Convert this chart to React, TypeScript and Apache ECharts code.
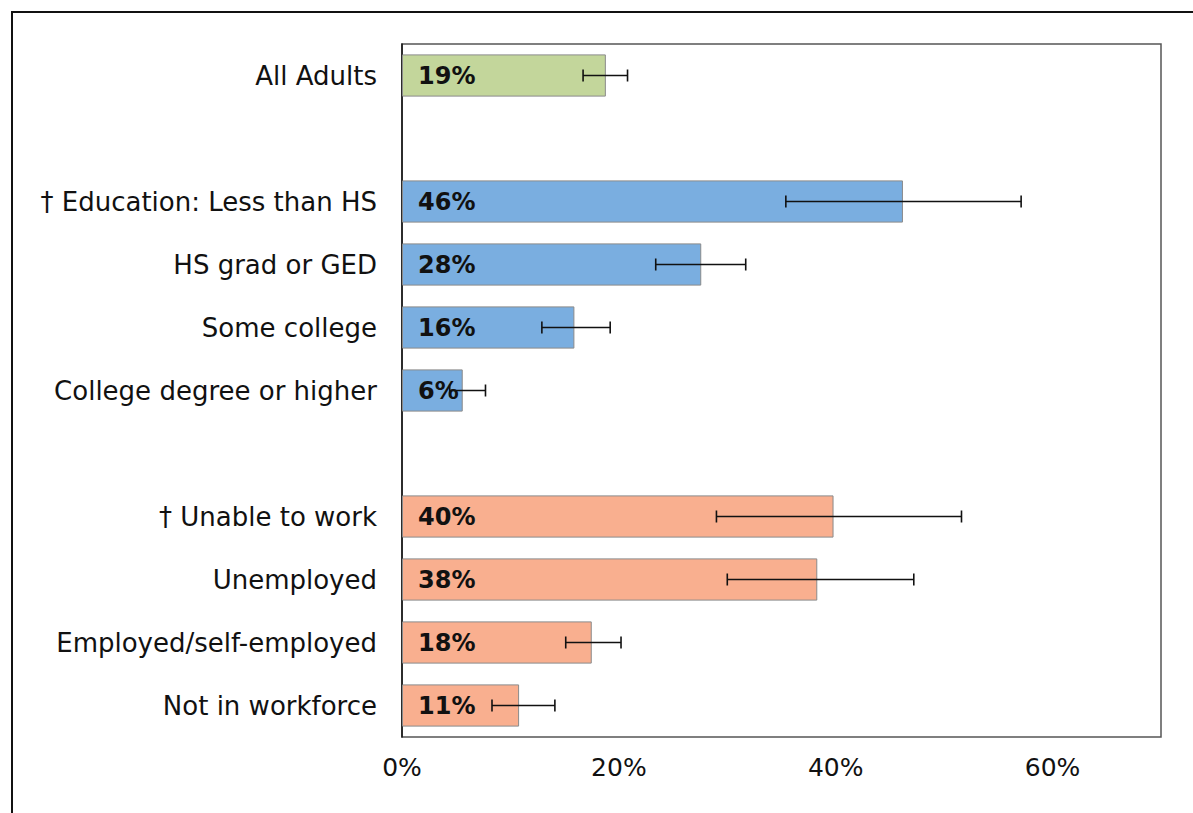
import React, { useEffect, useRef } from "react";
import * as echarts from "echarts";

const categories = [
  "All Adults",
  "",
  "† Education: Less than HS",
  "HS grad or GED",
  "Some college",
  "College degree or higher",
  " ",
  "† Unable to work",
  "Unemployed",
  "Employed/self-employed",
  "Not in workforce",
];
const values: (number | null)[] = [18.8, null, 46.2, 27.6, 15.9, 5.6, null, 39.8, 38.3, 17.5, 10.8];
const lowCI: (number | null)[] = [16.7, null, 35.4, 23.4, 12.9, 4.4, null, 29.0, 30.0, 15.1, 8.3];
const highCI: (number | null)[] = [20.8, null, 57.1, 31.7, 19.2, 7.7, null, 51.6, 47.2, 20.2, 14.1];
const groupColors = ["#c3d69b", null, "#7aaee0", "#7aaee0", "#7aaee0", "#7aaee0", null, "#f9af8f", "#f9af8f", "#f9af8f", "#f9af8f"];
const xTicks = [0, 20, 40, 60];

export default function App() {
  const ref = useRef<HTMLDivElement>(null);
  useEffect(() => {
    if (!ref.current) return;
    const chart = echarts.init(ref.current, undefined, { renderer: "svg" });
    const font = "'DejaVu Sans', Arial, sans-serif";
    const barData = values.map((v, i) =>
      v == null
        ? "-"
        : { value: v, itemStyle: { color: groupColors[i] as string } }
    );
    const errData = values
      .map((v, i) => (v == null ? null : [i, lowCI[i], highCI[i]]))
      .filter((d) => d !== null);
    chart.setOption({
      animation: false,
      backgroundColor: "#ffffff",
      graphic: [
        {
          type: "rect",
          shape: { x: 12, y: 12, width: 1300, height: 900 },
          style: { fill: "none", stroke: "#111", lineWidth: 2 },
          silent: true,
        },
      ],
      grid: {
        left: 402,
        top: 44,
        width: 759,
        height: 693,
        show: true,
        borderColor: "#555",
        borderWidth: 1.5,
        backgroundColor: "transparent",
      },
      xAxis: {
        type: "value",
        min: 0,
        max: 70,
        interval: 20,
        splitLine: { show: false },
        axisLine: { show: false },
        axisTick: { show: false },
        axisLabel: {
          showMaxLabel: false,
          formatter: (v: number) => (xTicks.includes(v) ? v + "%" : ""),
          fontSize: 25,
          color: "#111",
          fontFamily: font,
          margin: 18,
        },
      },
      yAxis: {
        type: "category",
        data: categories,
        inverse: true,
        axisLine: { show: true, lineStyle: { color: "#111", width: 1.5 } },
        axisTick: { show: false },
        axisLabel: {
          fontSize: 26,
          color: "#111",
          fontFamily: font,
          margin: 25,
        },
      },
      series: [
        {
          type: "bar",
          data: barData,
          barCategoryGap: "33%",
          itemStyle: { borderColor: "#8a8a8a", borderWidth: 1 },
          label: {
            show: true,
            position: "insideLeft",
            distance: 16,
            formatter: (p: any) => Math.round(p.value) + "%",
            fontSize: 24,
            fontWeight: "bold",
            color: "#111",
            fontFamily: font,
          },
          z: 2,
        },
        {
          type: "custom",
          data: errData,
          z: 5,
          renderItem: (params: any, api: any) => {
            const idx = api.value(0);
            const lo = api.coord([api.value(1), idx]);
            const hi = api.coord([api.value(2), idx]);
            const cap = 6;
            const style = { stroke: "#111", lineWidth: 1.6 };
            return {
              type: "group",
              children: [
                { type: "line", shape: { x1: lo[0], y1: lo[1], x2: hi[0], y2: hi[1] }, style },
                { type: "line", shape: { x1: lo[0], y1: lo[1] - cap, x2: lo[0], y2: lo[1] + cap }, style },
                { type: "line", shape: { x1: hi[0], y1: hi[1] - cap, x2: hi[0], y2: hi[1] + cap }, style },
              ],
            };
          },
        },
      ],
    });
    return () => chart.dispose();
  }, []);
  return (
    <div
      ref={ref}
      style={{ position: "absolute", left: 0, top: 0, width: 1193, height: 813 }}
    />
  );
}
